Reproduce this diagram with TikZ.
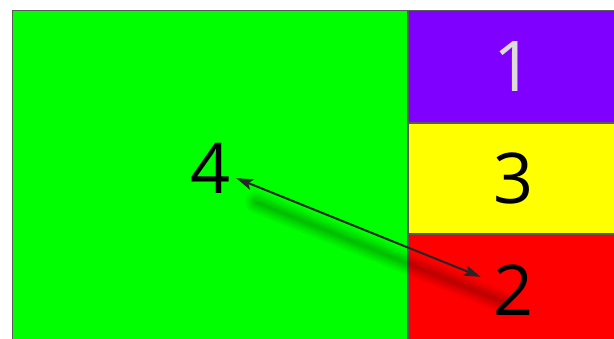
\documentclass[tikz,border=0pt]{standalone}
\usepackage{fontspec}
\setsansfont{Open Sans}
\usetikzlibrary{arrows.meta, positioning}

\definecolor{fieldgreen}{HTML}{00FF00}
\definecolor{tilepurple}{HTML}{8000FF}
\definecolor{tileyellow}{HTML}{FFFF00}
\definecolor{tilered}{HTML}{FF0000}
\definecolor{softgray}{HTML}{DCDCDC}

\begin{document}
\begin{tikzpicture}[
    x=1pt, y=1pt,
    panel/.style={rectangle, draw=gray!70!black, line width=0.8pt, inner sep=0pt, anchor=north west},
    tile/.style={panel, minimum width=210},
    digit/.style={font=\sffamily\fontsize{70}{70}\selectfont, inner sep=5pt},
    arrow/.style={<->, >={Stealth[length=17pt, width=11pt, inset=4pt]}, line width=2pt, draw=black!85, shorten >=8pt},
    shade/.style={line cap=round, black, opacity=0.04, shorten >=6pt, transform canvas={shift={(20pt,-24pt)}}}
]
\useasboundingbox (0,0) rectangle (614,338);

% Panels
\node[panel, fill=fieldgreen, minimum width=395, minimum height=340] (field) at (12,328) {};
\node[tile, fill=tilepurple, minimum height=112] (purple) at (field.north east) {};
\node[tile, fill=tileyellow, minimum height=110, below=0pt of purple] (yellow) {};
\node[tile, fill=tilered, minimum height=112, below=0pt of yellow] (red) {};

% Digits
\node[digit] (four) at (211,170) {4};
\node[digit, text=softgray] (one) at (purple.center) {1};
\node[digit] (three) at (yellow.center) {3};
\node[digit] (two) at (red.center) {2};

% Shadow
\foreach \w in {2,5,8,11,14,18,22}
  \draw[shade, line width=\w pt] (four) -- (two);

% Arrows
\draw[arrow] (four) -- (two);

\end{tikzpicture}
\end{document}
